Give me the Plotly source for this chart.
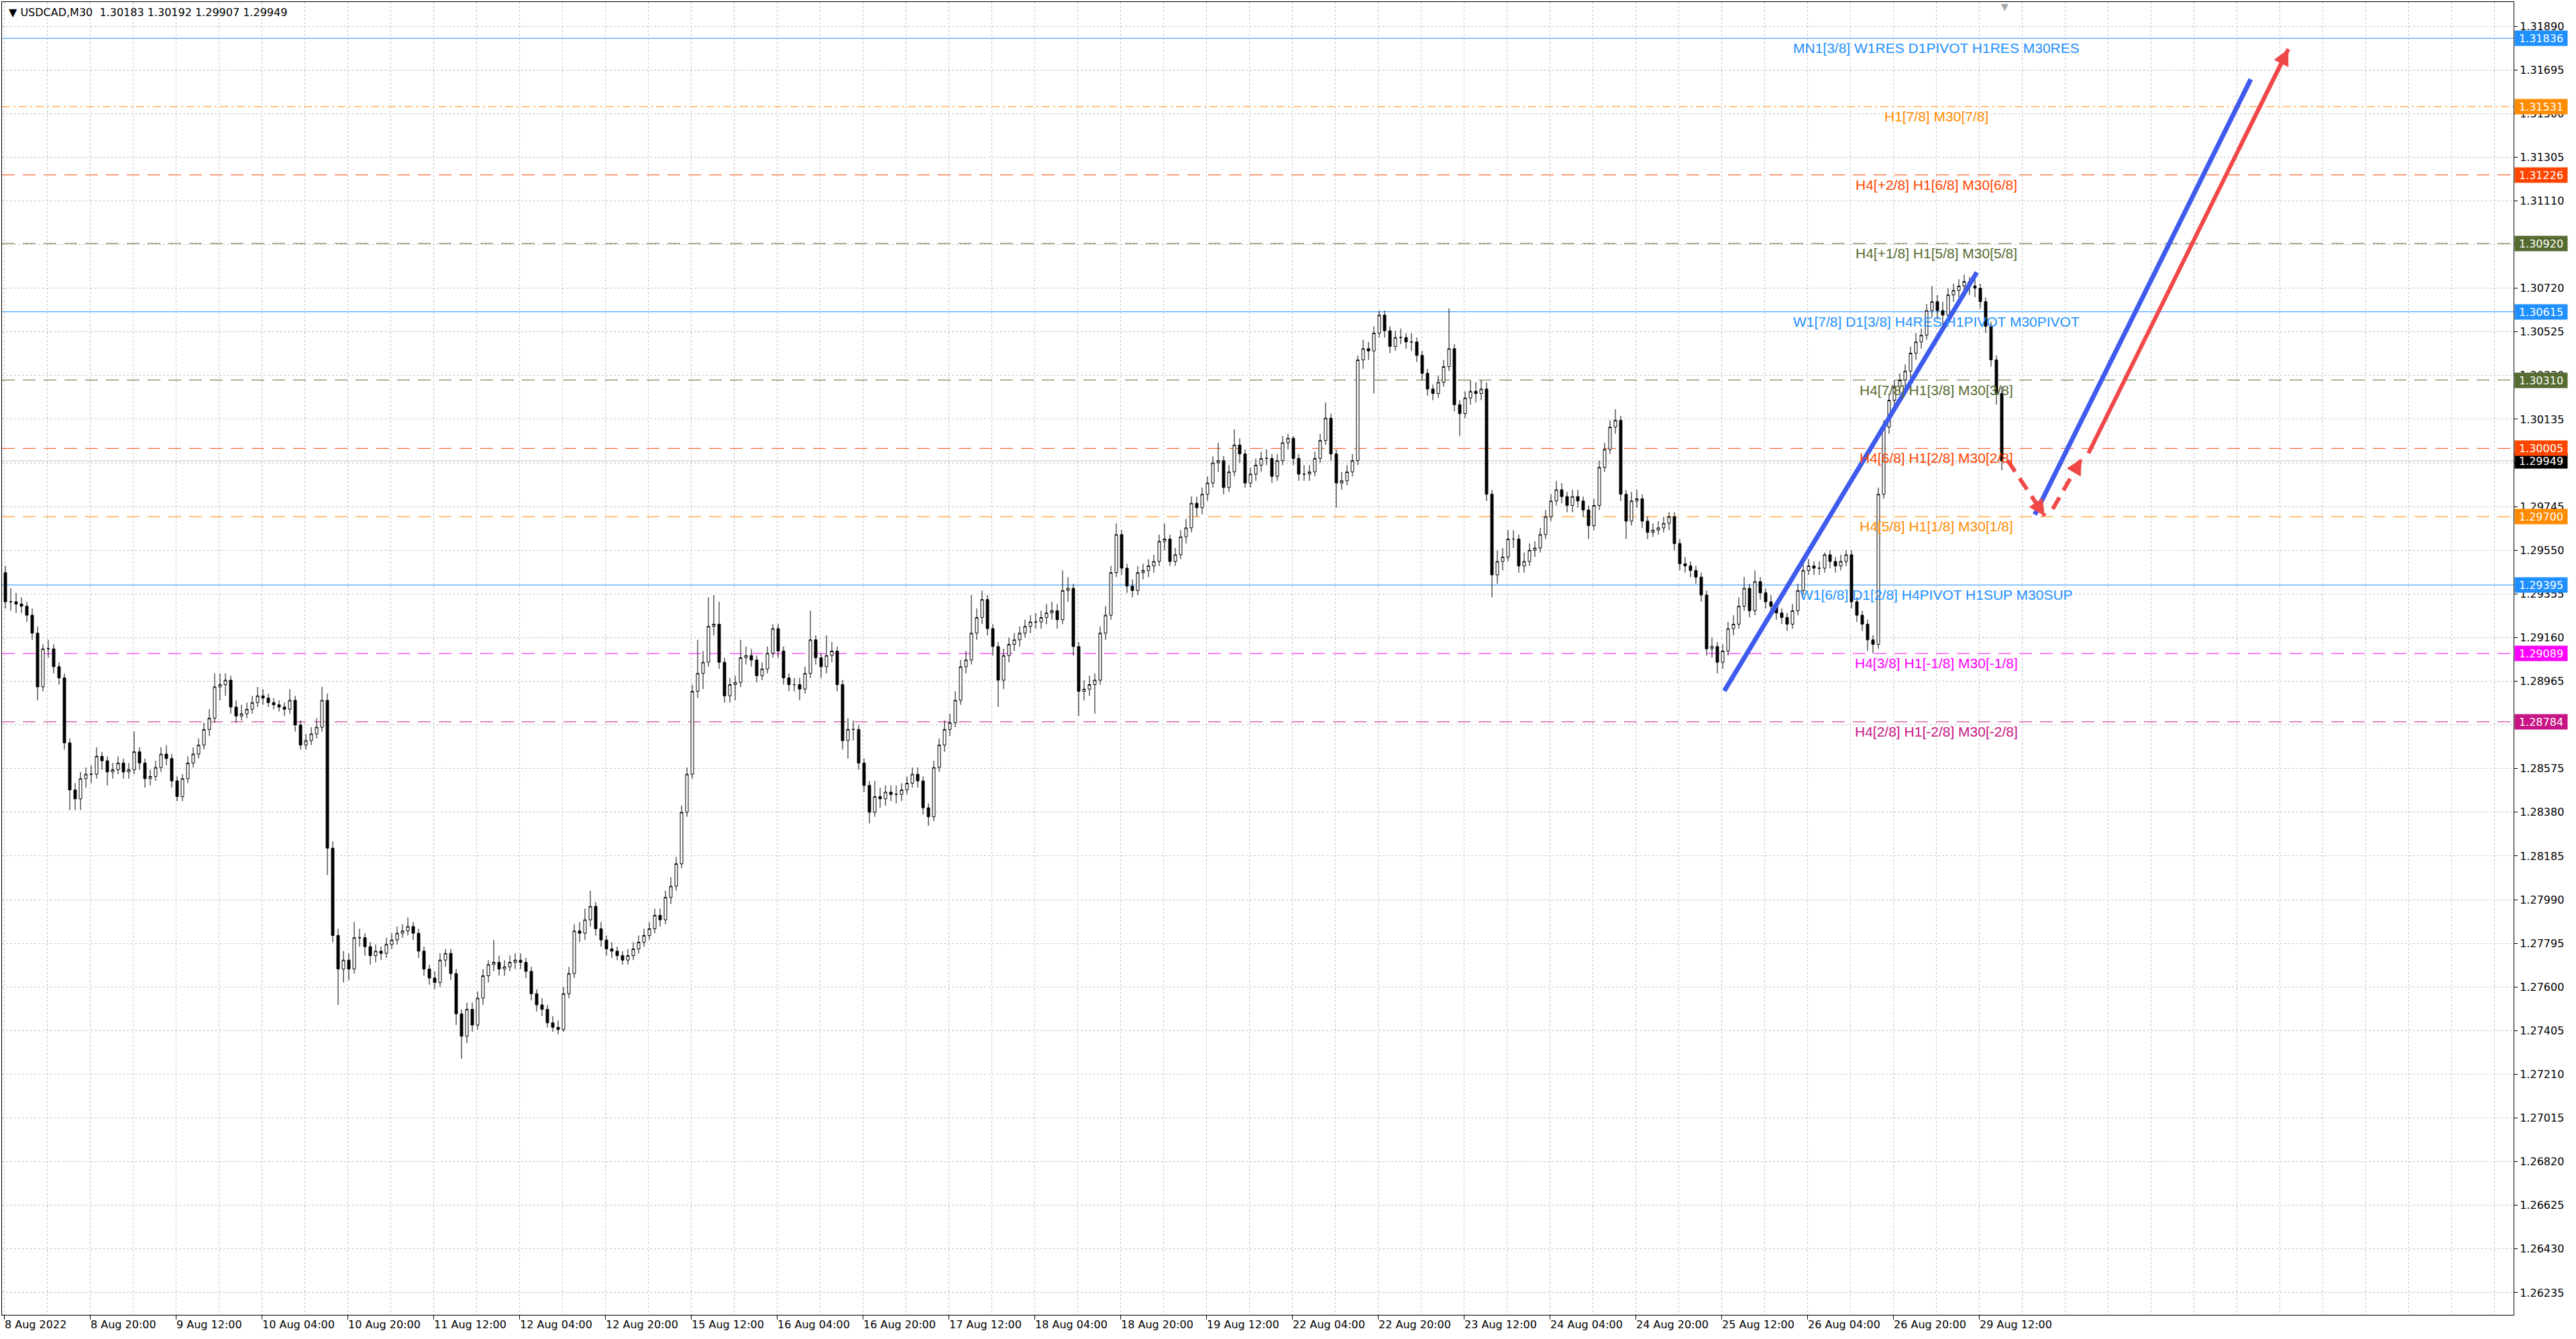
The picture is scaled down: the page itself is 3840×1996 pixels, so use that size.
import plotly.graph_objects as go

# ---------------- data (H1 candles) ----------------
opens = [
    1.2945, 1.2932, 1.2932, 1.2931, 1.2930, 1.2926, 1.2918, 1.2894, 1.2911, 1.2911,
    1.2903, 1.2898, 1.2869, 1.2848, 1.2844, 1.2853, 1.2855, 1.2855, 1.2863, 1.2861,
    1.2856, 1.2857, 1.2860, 1.2856, 1.2857, 1.2865, 1.2860, 1.2853, 1.2854, 1.2858,
    1.2864, 1.2862, 1.2852, 1.2845, 1.2853, 1.2860, 1.2864, 1.2868, 1.2875, 1.2880,
    1.2894, 1.2895, 1.2897, 1.2885, 1.2881, 1.2882, 1.2884, 1.2887, 1.2890, 1.2889,
    1.2887, 1.2886, 1.2885, 1.2884, 1.2888, 1.2877, 1.2868, 1.2870, 1.2873, 1.2876,
    1.2888, 1.2822, 1.2783, 1.2768, 1.2772, 1.2768, 1.2782, 1.2782, 1.2778, 1.2774,
    1.2776, 1.2775, 1.2779, 1.2781, 1.2784, 1.2785, 1.2787, 1.2784, 1.2776, 1.2768,
    1.2764, 1.2762, 1.2772, 1.2775, 1.2766, 1.2748, 1.2738, 1.2750, 1.2743, 1.2755,
    1.2765, 1.2770, 1.2771, 1.2768, 1.2769, 1.2771, 1.2772, 1.2771, 1.2767, 1.2757,
    1.2752, 1.2750, 1.2744, 1.2742, 1.2741, 1.2757, 1.2766, 1.2785, 1.2784, 1.2790,
    1.2796, 1.2786, 1.2781, 1.2777, 1.2776, 1.2774, 1.2772, 1.2774, 1.2777, 1.2780,
    1.2783, 1.2786, 1.2792, 1.2790, 1.2800, 1.2805, 1.2815, 1.2838, 1.2855, 1.2892,
    1.2900, 1.2905, 1.2921, 1.2922, 1.2905, 1.2890, 1.2895, 1.2896, 1.2907, 1.2908,
    1.2906, 1.2899, 1.2902, 1.2909, 1.2920, 1.2910, 1.2898, 1.2895, 1.2895, 1.2893,
    1.2900, 1.2915, 1.2907, 1.2903, 1.2908, 1.2910, 1.2895, 1.2870, 1.2875, 1.2875,
    1.2860, 1.2850, 1.2838, 1.2845, 1.2844, 1.2847, 1.2846, 1.2846, 1.2848, 1.2851,
    1.2855, 1.2852, 1.2840, 1.2836, 1.2858, 1.2868, 1.2875, 1.2878, 1.2888, 1.2903,
    1.2906, 1.2918, 1.2925, 1.2933, 1.2920, 1.2912, 1.2897, 1.2908, 1.2913, 1.2915,
    1.2918, 1.2921, 1.2923, 1.2923, 1.2925, 1.2927, 1.2928, 1.2924, 1.2937, 1.2938,
    1.2912, 1.2892, 1.2893, 1.2895, 1.2897, 1.2918, 1.2926, 1.2945, 1.2962, 1.2947,
    1.2939, 1.2937, 1.2945, 1.2946, 1.2948, 1.2950, 1.2959, 1.2960, 1.2950, 1.2953,
    1.2961, 1.2965, 1.2976, 1.2974, 1.2980, 1.2985, 1.2994, 1.2995, 1.2983, 1.2990,
    1.3002, 1.2998, 1.2985, 1.2989, 1.2993, 1.2996, 1.2996, 1.2988, 1.2995, 1.3003,
    1.3005, 1.2996, 1.2989, 1.2989, 1.2990, 1.2996, 1.3004, 1.3014, 1.2998, 1.2985,
    1.2986, 1.2990, 1.2995, 1.3040, 1.3045, 1.3044, 1.3052, 1.3060, 1.3053, 1.3046,
    1.3050, 1.3050, 1.3048, 1.3048, 1.3042, 1.3034, 1.3027, 1.3025, 1.3030, 1.3037,
    1.3045, 1.3020, 1.3016, 1.3023, 1.3026, 1.3025, 1.3027, 1.2980, 1.2944, 1.2950,
    1.2952, 1.2960, 1.2960, 1.2948, 1.2950, 1.2955, 1.2956, 1.2962, 1.2970, 1.2977,
    1.2982, 1.2979, 1.2975, 1.2979, 1.2977, 1.2973, 1.2966, 1.2975, 1.2992, 1.3000,
    1.3010, 1.3013, 1.2980, 1.2968, 1.2977, 1.2978, 1.2968, 1.2963, 1.2964, 1.2965,
    1.2967, 1.2970, 1.2958, 1.2949, 1.2948, 1.2946, 1.2943, 1.2935, 1.2911, 1.2912,
    1.2905, 1.2910, 1.2920, 1.2922, 1.2930, 1.2938, 1.2928, 1.2941, 1.2936, 1.2932,
    1.2930, 1.2927, 1.2925, 1.2922, 1.2928, 1.2937, 1.2946, 1.2948, 1.2947, 1.2947,
    1.2953, 1.2950, 1.2948, 1.2950, 1.2953, 1.2932, 1.2926, 1.2922, 1.2915, 1.2913,
    1.2980, 1.3010, 1.3022, 1.3028, 1.3031, 1.3035, 1.3043, 1.3048, 1.3051, 1.3062,
    1.3066, 1.3062, 1.3060, 1.3069, 1.3071, 1.3073, 1.3075, 1.3073, 1.3072, 1.3066,
    1.3055, 1.3040, 1.3025,
]
highs = [
    1.2948, 1.2938, 1.2936, 1.2934, 1.2932, 1.2929, 1.2921, 1.2913, 1.2915, 1.2913,
    1.2905, 1.2900, 1.2871, 1.2851, 1.2856, 1.2858, 1.2859, 1.2867, 1.2865, 1.2863,
    1.2860, 1.2863, 1.2862, 1.2860, 1.2874, 1.2867, 1.2862, 1.2857, 1.2861, 1.2867,
    1.2868, 1.2864, 1.2854, 1.2855, 1.2863, 1.2867, 1.2871, 1.2878, 1.2884, 1.2900,
    1.2900, 1.2900, 1.2899, 1.2888, 1.2886, 1.2887, 1.2890, 1.2894, 1.2893, 1.2891,
    1.2889, 1.2888, 1.2887, 1.2893, 1.2890, 1.2879, 1.2873, 1.2876, 1.2880, 1.2894,
    1.2891, 1.2825, 1.2786, 1.2776, 1.2775, 1.2789, 1.2786, 1.2784, 1.2780, 1.2779,
    1.2778, 1.2782, 1.2784, 1.2787, 1.2788, 1.2791, 1.2789, 1.2786, 1.2778, 1.2770,
    1.2767, 1.2775, 1.2777, 1.2777, 1.2768, 1.2750, 1.2753, 1.2753, 1.2758, 1.2768,
    1.2772, 1.2781, 1.2774, 1.2772, 1.2774, 1.2775, 1.2775, 1.2773, 1.2769, 1.2759,
    1.2755, 1.2752, 1.2747, 1.2745, 1.2760, 1.2769, 1.2788, 1.2789, 1.2795, 1.2803,
    1.2798, 1.2789, 1.2783, 1.2780, 1.2778, 1.2776, 1.2777, 1.2780, 1.2783, 1.2786,
    1.2789, 1.2795, 1.2795, 1.2803, 1.2809, 1.2818, 1.2841, 1.2858, 1.2895, 1.2915,
    1.2910, 1.2934, 1.2935, 1.2932, 1.2907, 1.2898, 1.2899, 1.2915, 1.2912, 1.2911,
    1.2908, 1.2905, 1.2912, 1.2922, 1.2922, 1.2912, 1.2900, 1.2898, 1.2898, 1.2903,
    1.2928, 1.2917, 1.2909, 1.2917, 1.2914, 1.2912, 1.2897, 1.2880, 1.2879, 1.2877,
    1.2862, 1.2852, 1.2852, 1.2849, 1.2850, 1.2850, 1.2850, 1.2851, 1.2854, 1.2858,
    1.2858, 1.2854, 1.2842, 1.2861, 1.2871, 1.2879, 1.2882, 1.2892, 1.2906, 1.2910,
    1.2935, 1.2929, 1.2937, 1.2935, 1.2922, 1.2914, 1.2911, 1.2916, 1.2918, 1.2921,
    1.2924, 1.2926, 1.2927, 1.2928, 1.2931, 1.2932, 1.2931, 1.2946, 1.2943, 1.2940,
    1.2914, 1.2897, 1.2899, 1.2900, 1.2921, 1.2930, 1.2948, 1.2967, 1.2964, 1.2949,
    1.2942, 1.2948, 1.2949, 1.2951, 1.2953, 1.2962, 1.2967, 1.2962, 1.2956, 1.2964,
    1.2969, 1.2979, 1.2979, 1.2983, 1.2988, 1.2997, 1.3003, 1.2997, 1.2993, 1.3009,
    1.3005, 1.3000, 1.2992, 1.2996, 1.2999, 1.3000, 1.2998, 1.2998, 1.3006, 1.3007,
    1.3006, 1.2998, 1.2993, 1.2993, 1.2999, 1.3007, 1.3021, 1.3016, 1.3000, 1.2990,
    1.2993, 1.2998, 1.3042, 1.3049, 1.3048, 1.3055, 1.3062, 1.3062, 1.3055, 1.3053,
    1.3054, 1.3052, 1.3052, 1.3050, 1.3044, 1.3036, 1.3029, 1.3033, 1.3040, 1.3063,
    1.3047, 1.3022, 1.3026, 1.3031, 1.3030, 1.3031, 1.3030, 1.2982, 1.2955, 1.2956,
    1.2964, 1.2964, 1.2962, 1.2954, 1.2958, 1.2959, 1.2965, 1.2973, 1.2980, 1.2986,
    1.2985, 1.2981, 1.2982, 1.2982, 1.2979, 1.2975, 1.2978, 1.2995, 1.3003, 1.3013,
    1.3018, 1.3015, 1.2982, 1.2981, 1.2982, 1.2980, 1.2970, 1.2967, 1.2968, 1.2970,
    1.2972, 1.2972, 1.2960, 1.2952, 1.2950, 1.2948, 1.2945, 1.2937, 1.2916, 1.2914,
    1.2913, 1.2923, 1.2926, 1.2934, 1.2943, 1.2940, 1.2946, 1.2943, 1.2938, 1.2935,
    1.2932, 1.2929, 1.2927, 1.2931, 1.2940, 1.2951, 1.2951, 1.2950, 1.2950, 1.2954,
    1.2955, 1.2952, 1.2953, 1.2955, 1.2955, 1.2934, 1.2928, 1.2924, 1.2917, 1.2983,
    1.3013, 1.3025, 1.3031, 1.3034, 1.3038, 1.3046, 1.3052, 1.3054, 1.3065, 1.3073,
    1.3069, 1.3066, 1.3072, 1.3074, 1.3076, 1.3078, 1.3077, 1.3078, 1.3074, 1.3068,
    1.3057, 1.3042, 1.3028,
]
lows = [
    1.2929, 1.2928, 1.2927, 1.2927, 1.2923, 1.2915, 1.2888, 1.2892, 1.2907, 1.2900,
    1.2895, 1.2866, 1.2839, 1.2839, 1.2839, 1.2849, 1.2851, 1.2853, 1.2857, 1.2850,
    1.2853, 1.2855, 1.2853, 1.2853, 1.2855, 1.2857, 1.2849, 1.2850, 1.2852, 1.2856,
    1.2859, 1.2849, 1.2843, 1.2843, 1.2851, 1.2858, 1.2862, 1.2866, 1.2872, 1.2878,
    1.2888, 1.2890, 1.2882, 1.2878, 1.2879, 1.2880, 1.2882, 1.2885, 1.2886, 1.2885,
    1.2884, 1.2883, 1.2881, 1.2882, 1.2874, 1.2866, 1.2866, 1.2868, 1.2871, 1.2874,
    1.2810, 1.2780, 1.2752, 1.2762, 1.2763, 1.2766, 1.2778, 1.2774, 1.2770, 1.2771,
    1.2772, 1.2773, 1.2777, 1.2779, 1.2782, 1.2783, 1.2781, 1.2773, 1.2765, 1.2761,
    1.2759, 1.2760, 1.2769, 1.2763, 1.2743, 1.2728, 1.2735, 1.2740, 1.2741, 1.2752,
    1.2762, 1.2767, 1.2765, 1.2765, 1.2767, 1.2768, 1.2768, 1.2764, 1.2754, 1.2749,
    1.2747, 1.2742, 1.2740, 1.2739, 1.2740, 1.2755, 1.2764, 1.2780, 1.2781, 1.2787,
    1.2783, 1.2778, 1.2774, 1.2773, 1.2772, 1.2770, 1.2770, 1.2772, 1.2775, 1.2778,
    1.2781, 1.2784, 1.2787, 1.2788, 1.2797, 1.2803, 1.2813, 1.2836, 1.2853, 1.2889,
    1.2893, 1.2903, 1.2917, 1.2902, 1.2887, 1.2887, 1.2888, 1.2894, 1.2904, 1.2903,
    1.2896, 1.2897, 1.2900, 1.2907, 1.2907, 1.2895, 1.2892, 1.2892, 1.2888, 1.2891,
    1.2898, 1.2904, 1.2898, 1.2900, 1.2905, 1.2892, 1.2866, 1.2862, 1.2870, 1.2857,
    1.2847, 1.2833, 1.2836, 1.2840, 1.2841, 1.2843, 1.2842, 1.2843, 1.2846, 1.2849,
    1.2849, 1.2837, 1.2832, 1.2834, 1.2856, 1.2865, 1.2872, 1.2876, 1.2886, 1.2900,
    1.2904, 1.2915, 1.2922, 1.2917, 1.2908, 1.2885, 1.2893, 1.2905, 1.2910, 1.2912,
    1.2916, 1.2918, 1.2920, 1.2920, 1.2922, 1.2924, 1.2920, 1.2922, 1.2932, 1.2908,
    1.2881, 1.2888, 1.2890, 1.2882, 1.2895, 1.2915, 1.2924, 1.2943, 1.2944, 1.2936,
    1.2934, 1.2935, 1.2942, 1.2943, 1.2945, 1.2948, 1.2955, 1.2948, 1.2948, 1.2951,
    1.2958, 1.2963, 1.2970, 1.2971, 1.2977, 1.2983, 1.2990, 1.2980, 1.2981, 1.2988,
    1.2994, 1.2983, 1.2983, 1.2986, 1.2990, 1.2993, 1.2985, 1.2986, 1.2993, 1.3000,
    1.2993, 1.2986, 1.2986, 1.2986, 1.2988, 1.2994, 1.3002, 1.2995, 1.2974, 1.2982,
    1.2984, 1.2988, 1.2993, 1.3036, 1.3040, 1.3025, 1.3050, 1.3050, 1.3043, 1.3044,
    1.3047, 1.3045, 1.3044, 1.3039, 1.3031, 1.3024, 1.3022, 1.3023, 1.3028, 1.3035,
    1.3017, 1.3006, 1.3014, 1.3020, 1.3021, 1.3022, 1.2977, 1.2934, 1.2940, 1.2946,
    1.2950, 1.2956, 1.2945, 1.2945, 1.2948, 1.2952, 1.2954, 1.2960, 1.2968, 1.2975,
    1.2976, 1.2972, 1.2972, 1.2974, 1.2970, 1.2960, 1.2964, 1.2973, 1.2990, 1.2998,
    1.3007, 1.2977, 1.2960, 1.2966, 1.2974, 1.2965, 1.2960, 1.2961, 1.2962, 1.2963,
    1.2964, 1.2955, 1.2946, 1.2945, 1.2943, 1.2940, 1.2932, 1.2908, 1.2907, 1.2900,
    1.2902, 1.2908, 1.2917, 1.2920, 1.2928, 1.2925, 1.2926, 1.2933, 1.2929, 1.2927,
    1.2924, 1.2922, 1.2919, 1.2920, 1.2926, 1.2935, 1.2944, 1.2944, 1.2944, 1.2945,
    1.2947, 1.2945, 1.2946, 1.2948, 1.2929, 1.2923, 1.2919, 1.2910, 1.2909, 1.2911,
    1.2978, 1.3007, 1.3019, 1.3025, 1.3028, 1.3032, 1.3040, 1.3045, 1.3049, 1.3059,
    1.3058, 1.3055, 1.3058, 1.3066, 1.3068, 1.3070, 1.3069, 1.3068, 1.3063, 1.3052,
    1.3037, 1.3020, 1.29907,
]
closes = [
    1.2932, 1.2932, 1.2931, 1.2930, 1.2926, 1.2918, 1.2894, 1.2911, 1.2911, 1.2903,
    1.2898, 1.2869, 1.2848, 1.2844, 1.2853, 1.2855, 1.2855, 1.2863, 1.2861, 1.2856,
    1.2857, 1.2860, 1.2856, 1.2857, 1.2865, 1.2860, 1.2853, 1.2854, 1.2858, 1.2864,
    1.2862, 1.2852, 1.2845, 1.2853, 1.2860, 1.2864, 1.2868, 1.2875, 1.2880, 1.2894,
    1.2895, 1.2897, 1.2885, 1.2881, 1.2882, 1.2884, 1.2887, 1.2890, 1.2889, 1.2887,
    1.2886, 1.2885, 1.2884, 1.2888, 1.2877, 1.2868, 1.2870, 1.2873, 1.2876, 1.2888,
    1.2822, 1.2783, 1.2768, 1.2772, 1.2768, 1.2782, 1.2782, 1.2778, 1.2774, 1.2776,
    1.2775, 1.2779, 1.2781, 1.2784, 1.2785, 1.2787, 1.2784, 1.2776, 1.2768, 1.2764,
    1.2762, 1.2772, 1.2775, 1.2766, 1.2748, 1.2738, 1.2750, 1.2743, 1.2755, 1.2765,
    1.2770, 1.2771, 1.2768, 1.2769, 1.2771, 1.2772, 1.2771, 1.2767, 1.2757, 1.2752,
    1.2750, 1.2744, 1.2742, 1.2741, 1.2757, 1.2766, 1.2785, 1.2784, 1.2790, 1.2796,
    1.2786, 1.2781, 1.2777, 1.2776, 1.2774, 1.2772, 1.2774, 1.2777, 1.2780, 1.2783,
    1.2786, 1.2792, 1.2790, 1.2800, 1.2805, 1.2815, 1.2838, 1.2855, 1.2892, 1.2900,
    1.2905, 1.2921, 1.2922, 1.2905, 1.2890, 1.2895, 1.2896, 1.2907, 1.2908, 1.2906,
    1.2899, 1.2902, 1.2909, 1.2920, 1.2910, 1.2898, 1.2895, 1.2895, 1.2893, 1.2900,
    1.2915, 1.2907, 1.2903, 1.2908, 1.2910, 1.2895, 1.2870, 1.2875, 1.2875, 1.2860,
    1.2850, 1.2838, 1.2845, 1.2844, 1.2847, 1.2846, 1.2846, 1.2848, 1.2851, 1.2855,
    1.2852, 1.2840, 1.2836, 1.2858, 1.2868, 1.2875, 1.2878, 1.2888, 1.2903, 1.2906,
    1.2918, 1.2925, 1.2933, 1.2920, 1.2912, 1.2897, 1.2908, 1.2913, 1.2915, 1.2918,
    1.2921, 1.2923, 1.2923, 1.2925, 1.2927, 1.2928, 1.2924, 1.2937, 1.2938, 1.2912,
    1.2892, 1.2893, 1.2895, 1.2897, 1.2918, 1.2926, 1.2945, 1.2962, 1.2947, 1.2939,
    1.2937, 1.2945, 1.2946, 1.2948, 1.2950, 1.2959, 1.2960, 1.2950, 1.2953, 1.2961,
    1.2965, 1.2976, 1.2974, 1.2980, 1.2985, 1.2994, 1.2995, 1.2983, 1.2990, 1.3002,
    1.2998, 1.2985, 1.2989, 1.2993, 1.2996, 1.2996, 1.2988, 1.2995, 1.3003, 1.3005,
    1.2996, 1.2989, 1.2989, 1.2990, 1.2996, 1.3004, 1.3014, 1.2998, 1.2985, 1.2986,
    1.2990, 1.2995, 1.3040, 1.3045, 1.3044, 1.3052, 1.3060, 1.3053, 1.3046, 1.3050,
    1.3050, 1.3048, 1.3048, 1.3042, 1.3034, 1.3027, 1.3025, 1.3030, 1.3037, 1.3045,
    1.3020, 1.3016, 1.3023, 1.3026, 1.3025, 1.3027, 1.2980, 1.2944, 1.2950, 1.2952,
    1.2960, 1.2960, 1.2948, 1.2950, 1.2955, 1.2956, 1.2962, 1.2970, 1.2977, 1.2982,
    1.2979, 1.2975, 1.2979, 1.2977, 1.2973, 1.2966, 1.2975, 1.2992, 1.3000, 1.3010,
    1.3013, 1.2980, 1.2968, 1.2977, 1.2978, 1.2968, 1.2963, 1.2964, 1.2965, 1.2967,
    1.2970, 1.2958, 1.2949, 1.2948, 1.2946, 1.2943, 1.2935, 1.2911, 1.2912, 1.2905,
    1.2910, 1.2920, 1.2922, 1.2930, 1.2938, 1.2928, 1.2941, 1.2936, 1.2932, 1.2930,
    1.2927, 1.2925, 1.2922, 1.2928, 1.2937, 1.2946, 1.2948, 1.2947, 1.2947, 1.2953,
    1.2950, 1.2948, 1.2950, 1.2953, 1.2932, 1.2926, 1.2922, 1.2915, 1.2913, 1.2980,
    1.3010, 1.3022, 1.3028, 1.3031, 1.3035, 1.3043, 1.3048, 1.3051, 1.3062, 1.3066,
    1.3062, 1.3060, 1.3069, 1.3071, 1.3073, 1.3075, 1.3073, 1.3072, 1.3066, 1.3055,
    1.3040, 1.3025, 1.29949,
]

# time axis: M30 bar index, labels every 32 bars
tick_bars = [0, 32, 64, 96, 128, 160, 192, 224, 256, 288, 320, 352,
             384, 416, 448, 480, 512, 544, 576, 608, 640, 672, 704, 736]
tick_labels = ["8 Aug 2022", "8 Aug 20:00", "9 Aug 12:00", "10 Aug 04:00",
               "10 Aug 20:00", "11 Aug 12:00", "12 Aug 04:00", "12 Aug 20:00",
               "15 Aug 12:00", "16 Aug 04:00", "16 Aug 20:00", "17 Aug 12:00",
               "18 Aug 04:00", "18 Aug 20:00", "19 Aug 12:00", "22 Aug 04:00",
               "22 Aug 20:00", "23 Aug 12:00", "24 Aug 04:00", "24 Aug 20:00",
               "25 Aug 12:00", "26 Aug 04:00", "26 Aug 20:00", "29 Aug 12:00"]

price_ticks = [1.26235, 1.26430, 1.26625, 1.26820, 1.27015, 1.27210, 1.27405,
               1.27600, 1.27795, 1.27990, 1.28185, 1.28380, 1.28575, 1.28770,
               1.28965, 1.29160, 1.29355, 1.29550, 1.29745, 1.29940, 1.30135,
               1.30330, 1.30525, 1.30720, 1.30915, 1.31110, 1.31305, 1.31500,
               1.31695, 1.31890]
price_tick_text = ["%.5f" % p for p in price_ticks]

levels = [1.31836, 1.31531, 1.31226, 1.30920, 1.30615, 1.30310,
          1.30005, 1.29700, 1.29395, 1.29089, 1.28784]
level_labels = ["MN1[3/8] W1RES D1PIVOT H1RES M30RES",
                "H1[7/8] M30[7/8]",
                "H4[+2/8] H1[6/8] M30[6/8]",
                "H4[+1/8] H1[5/8] M30[5/8]",
                "W1[7/8] D1[3/8] H4RES H1PIVOT M30PIVOT",
                "H4[7/8] H1[3/8] M30[3/8]",
                "H4[6/8] H1[2/8] M30[2/8]",
                "H4[5/8] H1[1/8] M30[1/8]",
                "W1[6/8] D1[2/8] H4PIVOT H1SUP M30SUP",
                "H4[3/8] H1[-1/8] M30[-1/8]",
                "H4[2/8] H1[-2/8] M30[-2/8]"]
level_colors = ["#1E90FF", "#FF8C00", "#FF4500", "#556B2F", "#1E90FF", "#556B2F",
                "#FF4500", "#FF8C00", "#1E90FF", "#FF00FF", "#C71585"]
level_dashes = ["solid", "12px,5px,3px,5px", "19px,12px", "19px,12px", "solid",
                "19px,12px", "19px,12px", "19px,12px", "solid", "19px,12px",
                "19px,12px"]
label_bar = 720
bid_price = 1.29949
title_text = "\u25BC USDCAD,M30  1.30183 1.30192 1.29907 1.29949"

# hand-drawn forecast lines (bar index, price)
blue1_bars, blue1_prices = [641.1, 735.2], [1.28922, 1.30791]
blue2_bars, blue2_prices = [756.8, 837.3], [1.29709, 1.31653]
red_solid_bars, red_solid_prices = [776.8, 851.3], [1.29983, 1.31788]
red_dash1_bars, red_dash1_prices = [746.7, 760.5], [1.29951, 1.29703]
red_dash2_bars, red_dash2_prices = [763.5, 774.3], [1.29734, 1.29960]

# ---------------- figure ----------------
W, H = 3840, 1996
ML, MR, MT, MB = 3, 93, 3, 36
X_RANGE = [-0.75, 935.25]
Y_RANGE = [1.26136, 1.31998]
AX_FONT = dict(family="DejaVu Sans", size=16, color="black")
BLUE = "#3F5BEE"
RED = "#F04848"

candle_x = [2 * j + 0.5 for j in range(len(closes))]

fig = go.Figure()

# level lines
for lv, col, dsh in zip(levels, level_colors, level_dashes):
    fig.add_shape(type="line", xref="x", yref="y", x0=X_RANGE[0], x1=X_RANGE[1],
                  y0=lv, y1=lv, line=dict(color=col, width=1, dash=dsh), layer="below")
fig.add_shape(type="line", xref="x", yref="y", x0=X_RANGE[0], x1=X_RANGE[1],
              y0=bid_price, y1=bid_price, line=dict(color="#C0C0C0", width=1), layer="below")

fig.add_trace(go.Candlestick(
    x=candle_x, open=opens, high=highs, low=lows, close=closes,
    increasing=dict(fillcolor="white", line=dict(color="black", width=1)),
    decreasing=dict(fillcolor="black", line=dict(color="black", width=1)),
    whiskerwidth=0, showlegend=False, hoverinfo="skip",
))

# forecast lines
fig.add_trace(go.Scatter(x=blue1_bars, y=blue1_prices, mode="lines",
                         line=dict(color=BLUE, width=7), showlegend=False, hoverinfo="skip"))
fig.add_trace(go.Scatter(x=blue2_bars, y=blue2_prices, mode="lines",
                         line=dict(color=BLUE, width=7), showlegend=False, hoverinfo="skip"))
fig.add_trace(go.Scatter(x=red_solid_bars, y=red_solid_prices, mode="lines",
                         line=dict(color=RED, width=6), showlegend=False, hoverinfo="skip"))
for bx, py in [(red_dash1_bars, red_dash1_prices), (red_dash2_bars, red_dash2_prices)]:
    fig.add_trace(go.Scatter(x=bx, y=py, mode="lines",
                             line=dict(color=RED, width=6, dash="20px,12px"),
                             showlegend=False, hoverinfo="skip"))

annotations = []
# arrow heads
for bx, py in [(red_solid_bars, red_solid_prices), (red_dash1_bars, red_dash1_prices),
               (red_dash2_bars, red_dash2_prices)]:
    annotations.append(dict(
        x=bx[1], y=py[1], xref="x", yref="y",
        ax=bx[1] - 0.25 * (bx[1] - bx[0]), ay=py[1] - 0.25 * (py[1] - py[0]),
        axref="x", ayref="y", text="", showarrow=True, arrowhead=2,
        arrowsize=0.8, arrowwidth=6, arrowcolor=RED))

# level texts
for lv, txt, col in zip(levels, level_labels, level_colors):
    annotations.append(dict(x=label_bar, y=lv, xref="x", yref="y", text=txt,
                            showarrow=False, xanchor="center", yanchor="top", yshift=-1,
                            font=dict(family="Liberation Sans, Arial", size=21, color=col)))

# price boxes on the right axis
annotations.append(dict(x=1, y=bid_price, xref="paper", yref="y", text="%.5f" % bid_price,
                        showarrow=False, xanchor="left", xshift=1, bgcolor="black",
                        font=dict(family="DejaVu Sans", size=16, color="white"),
                        width=76, height=20, borderpad=1))
for lv, col in zip(levels, level_colors):
    annotations.append(dict(x=1, y=lv, xref="paper", yref="y", text="%.5f" % lv,
                            showarrow=False, xanchor="left", xshift=1, bgcolor=col,
                            font=dict(family="DejaVu Sans", size=16, color="white"),
                            width=76, height=20, borderpad=1))

# title
annotations.append(dict(x=0, y=1, xref="paper", yref="paper", text=title_text,
                        showarrow=False, xanchor="left", yanchor="top", xshift=8, yshift=-4,
                        font=AX_FONT))
# chart shift marker
annotations.append(dict(x=candle_x[-1] + 1, y=1, xref="x", yref="paper", text="\u25BC",
                        showarrow=False, xanchor="center", yanchor="top", yshift=3,
                        font=dict(family="DejaVu Sans", size=14, color="#A8A8A8")))

fig.update_layout(
    width=W, height=H,
    margin=dict(l=ML, r=MR, t=MT, b=MB, pad=0),
    paper_bgcolor="white", plot_bgcolor="white",
    showlegend=False, annotations=annotations,
    font=AX_FONT,
)
fig.update_xaxes(
    range=X_RANGE, autorange=False, rangeslider=dict(visible=False),
    tickmode="array", tickvals=tick_bars, ticktext=tick_labels,
    ticklabelposition="outside right", ticks="outside", ticklen=6, tickcolor="black",
    tickfont=AX_FONT, showgrid=True, gridcolor="#C4C4C4", griddash="3px,3px", gridwidth=1,
    minor=dict(tickmode="linear", tick0=0, dtick=16, showgrid=True, gridcolor="#C4C4C4",
               griddash="3px,3px", gridwidth=1, ticks=""),
    showline=True, linecolor="black", linewidth=1, mirror=True,
    zeroline=False, automargin=False, fixedrange=True,
)
fig.update_yaxes(
    range=Y_RANGE, autorange=False, side="right",
    tickmode="array", tickvals=price_ticks, ticktext=price_tick_text,
    ticks="outside", ticklen=5, tickcolor="black", tickfont=AX_FONT,
    showgrid=True, gridcolor="#C4C4C4", griddash="3px,3px", gridwidth=1,
    showline=True, linecolor="black", linewidth=1, mirror=True,
    zeroline=False, automargin=False, fixedrange=True,
)

fig.write_html("out.html", config={"displayModeBar": False},
               post_script="document.body.style.margin='0';"
                           "document.body.style.overflow='hidden';")
